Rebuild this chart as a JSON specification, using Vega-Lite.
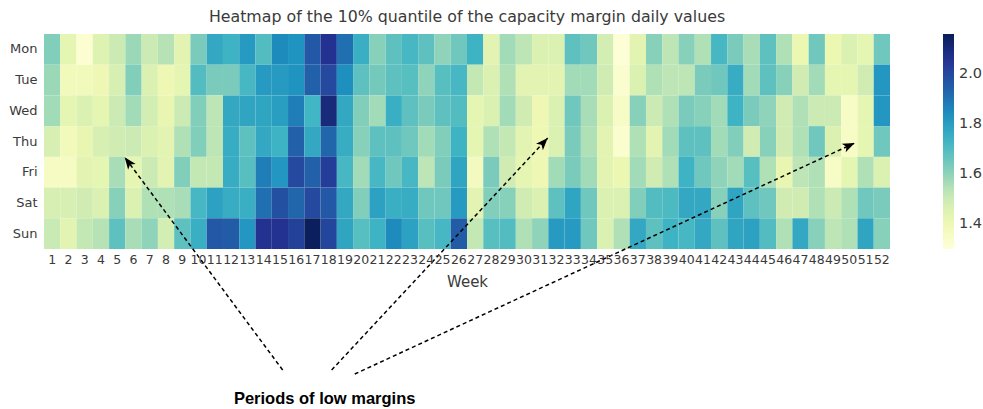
{
"$schema": "https://vega.github.io/schema/vega-lite/v6.json",
"autosize": "none",
"padding": {"left": 44, "top": 34, "right": 93, "bottom": 160},
"width": 846,
"height": 215,
"title": {"text": "Heatmap of the 10% quantile of the capacity margin daily values", "fontSize": 15.8, "fontWeight": "normal", "color": "#3a3a3a", "font": "DejaVu Sans", "anchor": "middle", "frame": "group", "offset": 8},
"config": {"view": {"stroke": null}, "font": "DejaVu Sans"},
"datasets": {
"cells": [
{"week":1,"day":"Mon","value":1.62},{"week":2,"day":"Mon","value":1.43},{"week":3,"day":"Mon","value":1.32},{"week":4,"day":"Mon","value":1.45},{"week":5,"day":"Mon","value":1.50},{"week":6,"day":"Mon","value":1.58},{"week":7,"day":"Mon","value":1.50},{"week":8,"day":"Mon","value":1.54},{"week":9,"day":"Mon","value":1.44},{"week":10,"day":"Mon","value":1.63},{"week":11,"day":"Mon","value":1.77},{"week":12,"day":"Mon","value":1.74},{"week":13,"day":"Mon","value":1.81},{"week":14,"day":"Mon","value":1.70},{"week":15,"day":"Mon","value":1.85},{"week":16,"day":"Mon","value":1.83},{"week":17,"day":"Mon","value":1.96},{"week":18,"day":"Mon","value":2.06},{"week":19,"day":"Mon","value":1.91},{"week":20,"day":"Mon","value":1.75},{"week":21,"day":"Mon","value":1.61},{"week":22,"day":"Mon","value":1.68},{"week":23,"day":"Mon","value":1.72},{"week":24,"day":"Mon","value":1.68},{"week":25,"day":"Mon","value":1.60},{"week":26,"day":"Mon","value":1.65},{"week":27,"day":"Mon","value":1.74},{"week":28,"day":"Mon","value":1.44},{"week":29,"day":"Mon","value":1.57},{"week":30,"day":"Mon","value":1.53},{"week":31,"day":"Mon","value":1.46},{"week":32,"day":"Mon","value":1.46},{"week":33,"day":"Mon","value":1.68},{"week":34,"day":"Mon","value":1.65},{"week":35,"day":"Mon","value":1.48},{"week":36,"day":"Mon","value":1.31},{"week":37,"day":"Mon","value":1.44},{"week":38,"day":"Mon","value":1.61},{"week":39,"day":"Mon","value":1.53},{"week":40,"day":"Mon","value":1.61},{"week":41,"day":"Mon","value":1.55},{"week":42,"day":"Mon","value":1.72},{"week":43,"day":"Mon","value":1.63},{"week":44,"day":"Mon","value":1.56},{"week":45,"day":"Mon","value":1.68},{"week":46,"day":"Mon","value":1.55},{"week":47,"day":"Mon","value":1.41},{"week":48,"day":"Mon","value":1.65},{"week":49,"day":"Mon","value":1.41},{"week":50,"day":"Mon","value":1.46},{"week":51,"day":"Mon","value":1.43},{"week":52,"day":"Mon","value":1.65},
{"week":1,"day":"Tue","value":1.58},{"week":2,"day":"Tue","value":1.38},{"week":3,"day":"Tue","value":1.38},{"week":4,"day":"Tue","value":1.40},{"week":5,"day":"Tue","value":1.47},{"week":6,"day":"Tue","value":1.62},{"week":7,"day":"Tue","value":1.46},{"week":8,"day":"Tue","value":1.40},{"week":9,"day":"Tue","value":1.43},{"week":10,"day":"Tue","value":1.70},{"week":11,"day":"Tue","value":1.63},{"week":12,"day":"Tue","value":1.63},{"week":13,"day":"Tue","value":1.72},{"week":14,"day":"Tue","value":1.81},{"week":15,"day":"Tue","value":1.81},{"week":16,"day":"Tue","value":1.83},{"week":17,"day":"Tue","value":1.94},{"week":18,"day":"Tue","value":2.00},{"week":19,"day":"Tue","value":1.84},{"week":20,"day":"Tue","value":1.68},{"week":21,"day":"Tue","value":1.64},{"week":22,"day":"Tue","value":1.68},{"week":23,"day":"Tue","value":1.69},{"week":24,"day":"Tue","value":1.60},{"week":25,"day":"Tue","value":1.69},{"week":26,"day":"Tue","value":1.72},{"week":27,"day":"Tue","value":1.52},{"week":28,"day":"Tue","value":1.46},{"week":29,"day":"Tue","value":1.55},{"week":30,"day":"Tue","value":1.44},{"week":31,"day":"Tue","value":1.44},{"week":32,"day":"Tue","value":1.44},{"week":33,"day":"Tue","value":1.57},{"week":34,"day":"Tue","value":1.57},{"week":35,"day":"Tue","value":1.49},{"week":36,"day":"Tue","value":1.33},{"week":37,"day":"Tue","value":1.46},{"week":38,"day":"Tue","value":1.55},{"week":39,"day":"Tue","value":1.53},{"week":40,"day":"Tue","value":1.53},{"week":41,"day":"Tue","value":1.63},{"week":42,"day":"Tue","value":1.65},{"week":43,"day":"Tue","value":1.76},{"week":44,"day":"Tue","value":1.57},{"week":45,"day":"Tue","value":1.68},{"week":46,"day":"Tue","value":1.61},{"week":47,"day":"Tue","value":1.49},{"week":48,"day":"Tue","value":1.57},{"week":49,"day":"Tue","value":1.43},{"week":50,"day":"Tue","value":1.43},{"week":51,"day":"Tue","value":1.49},{"week":52,"day":"Tue","value":1.82},
{"week":1,"day":"Wed","value":1.57},{"week":2,"day":"Wed","value":1.43},{"week":3,"day":"Wed","value":1.46},{"week":4,"day":"Wed","value":1.43},{"week":5,"day":"Wed","value":1.50},{"week":6,"day":"Wed","value":1.57},{"week":7,"day":"Wed","value":1.48},{"week":8,"day":"Wed","value":1.42},{"week":9,"day":"Wed","value":1.50},{"week":10,"day":"Wed","value":1.62},{"week":11,"day":"Wed","value":1.53},{"week":12,"day":"Wed","value":1.77},{"week":13,"day":"Wed","value":1.78},{"week":14,"day":"Wed","value":1.78},{"week":15,"day":"Wed","value":1.80},{"week":16,"day":"Wed","value":1.88},{"week":17,"day":"Wed","value":1.73},{"week":18,"day":"Wed","value":2.10},{"week":19,"day":"Wed","value":1.77},{"week":20,"day":"Wed","value":1.62},{"week":21,"day":"Wed","value":1.57},{"week":22,"day":"Wed","value":1.75},{"week":23,"day":"Wed","value":1.68},{"week":24,"day":"Wed","value":1.63},{"week":25,"day":"Wed","value":1.68},{"week":26,"day":"Wed","value":1.70},{"week":27,"day":"Wed","value":1.43},{"week":28,"day":"Wed","value":1.46},{"week":29,"day":"Wed","value":1.57},{"week":30,"day":"Wed","value":1.49},{"week":31,"day":"Wed","value":1.40},{"week":32,"day":"Wed","value":1.46},{"week":33,"day":"Wed","value":1.65},{"week":34,"day":"Wed","value":1.56},{"week":35,"day":"Wed","value":1.46},{"week":36,"day":"Wed","value":1.35},{"week":37,"day":"Wed","value":1.61},{"week":38,"day":"Wed","value":1.50},{"week":39,"day":"Wed","value":1.55},{"week":40,"day":"Wed","value":1.63},{"week":41,"day":"Wed","value":1.61},{"week":42,"day":"Wed","value":1.57},{"week":43,"day":"Wed","value":1.74},{"week":44,"day":"Wed","value":1.63},{"week":45,"day":"Wed","value":1.60},{"week":46,"day":"Wed","value":1.49},{"week":47,"day":"Wed","value":1.55},{"week":48,"day":"Wed","value":1.50},{"week":49,"day":"Wed","value":1.50},{"week":50,"day":"Wed","value":1.35},{"week":51,"day":"Wed","value":1.43},{"week":52,"day":"Wed","value":1.82},
{"week":1,"day":"Thu","value":1.47},{"week":2,"day":"Thu","value":1.38},{"week":3,"day":"Thu","value":1.42},{"week":4,"day":"Thu","value":1.47},{"week":5,"day":"Thu","value":1.49},{"week":6,"day":"Thu","value":1.50},{"week":7,"day":"Thu","value":1.46},{"week":8,"day":"Thu","value":1.44},{"week":9,"day":"Thu","value":1.55},{"week":10,"day":"Thu","value":1.62},{"week":11,"day":"Thu","value":1.53},{"week":12,"day":"Thu","value":1.76},{"week":13,"day":"Thu","value":1.68},{"week":14,"day":"Thu","value":1.77},{"week":15,"day":"Thu","value":1.74},{"week":16,"day":"Thu","value":1.94},{"week":17,"day":"Thu","value":1.77},{"week":18,"day":"Thu","value":1.93},{"week":19,"day":"Thu","value":1.76},{"week":20,"day":"Thu","value":1.61},{"week":21,"day":"Thu","value":1.68},{"week":22,"day":"Thu","value":1.68},{"week":23,"day":"Thu","value":1.65},{"week":24,"day":"Thu","value":1.57},{"week":25,"day":"Thu","value":1.62},{"week":26,"day":"Thu","value":1.74},{"week":27,"day":"Thu","value":1.43},{"week":28,"day":"Thu","value":1.55},{"week":29,"day":"Thu","value":1.52},{"week":30,"day":"Thu","value":1.44},{"week":31,"day":"Thu","value":1.40},{"week":32,"day":"Thu","value":1.46},{"week":33,"day":"Thu","value":1.63},{"week":34,"day":"Thu","value":1.55},{"week":35,"day":"Thu","value":1.44},{"week":36,"day":"Thu","value":1.33},{"week":37,"day":"Thu","value":1.55},{"week":38,"day":"Thu","value":1.44},{"week":39,"day":"Thu","value":1.57},{"week":40,"day":"Thu","value":1.68},{"week":41,"day":"Thu","value":1.68},{"week":42,"day":"Thu","value":1.57},{"week":43,"day":"Thu","value":1.62},{"week":44,"day":"Thu","value":1.49},{"week":45,"day":"Thu","value":1.61},{"week":46,"day":"Thu","value":1.49},{"week":47,"day":"Thu","value":1.55},{"week":48,"day":"Thu","value":1.65},{"week":49,"day":"Thu","value":1.46},{"week":50,"day":"Thu","value":1.35},{"week":51,"day":"Thu","value":1.43},{"week":52,"day":"Thu","value":1.65},
{"week":1,"day":"Fri","value":1.36},{"week":2,"day":"Fri","value":1.36},{"week":3,"day":"Fri","value":1.44},{"week":4,"day":"Fri","value":1.43},{"week":5,"day":"Fri","value":1.56},{"week":6,"day":"Fri","value":1.43},{"week":7,"day":"Fri","value":1.50},{"week":8,"day":"Fri","value":1.44},{"week":9,"day":"Fri","value":1.62},{"week":10,"day":"Fri","value":1.52},{"week":11,"day":"Fri","value":1.52},{"week":12,"day":"Fri","value":1.76},{"week":13,"day":"Fri","value":1.69},{"week":14,"day":"Fri","value":1.88},{"week":15,"day":"Fri","value":1.82},{"week":16,"day":"Fri","value":2.00},{"week":17,"day":"Fri","value":1.94},{"week":18,"day":"Fri","value":2.03},{"week":19,"day":"Fri","value":1.72},{"week":20,"day":"Fri","value":1.57},{"week":21,"day":"Fri","value":1.72},{"week":22,"day":"Fri","value":1.65},{"week":23,"day":"Fri","value":1.72},{"week":24,"day":"Fri","value":1.53},{"week":25,"day":"Fri","value":1.63},{"week":26,"day":"Fri","value":1.78},{"week":27,"day":"Fri","value":1.37},{"week":28,"day":"Fri","value":1.63},{"week":29,"day":"Fri","value":1.49},{"week":30,"day":"Fri","value":1.43},{"week":31,"day":"Fri","value":1.40},{"week":32,"day":"Fri","value":1.57},{"week":33,"day":"Fri","value":1.63},{"week":34,"day":"Fri","value":1.57},{"week":35,"day":"Fri","value":1.44},{"week":36,"day":"Fri","value":1.41},{"week":37,"day":"Fri","value":1.57},{"week":38,"day":"Fri","value":1.49},{"week":39,"day":"Fri","value":1.55},{"week":40,"day":"Fri","value":1.74},{"week":41,"day":"Fri","value":1.65},{"week":42,"day":"Fri","value":1.60},{"week":43,"day":"Fri","value":1.57},{"week":44,"day":"Fri","value":1.69},{"week":45,"day":"Fri","value":1.55},{"week":46,"day":"Fri","value":1.42},{"week":47,"day":"Fri","value":1.53},{"week":48,"day":"Fri","value":1.55},{"week":49,"day":"Fri","value":1.35},{"week":50,"day":"Fri","value":1.43},{"week":51,"day":"Fri","value":1.55},{"week":52,"day":"Fri","value":1.46},
{"week":1,"day":"Sat","value":1.47},{"week":2,"day":"Sat","value":1.47},{"week":3,"day":"Sat","value":1.49},{"week":4,"day":"Sat","value":1.46},{"week":5,"day":"Sat","value":1.61},{"week":6,"day":"Sat","value":1.46},{"week":7,"day":"Sat","value":1.55},{"week":8,"day":"Sat","value":1.55},{"week":9,"day":"Sat","value":1.56},{"week":10,"day":"Sat","value":1.72},{"week":11,"day":"Sat","value":1.79},{"week":12,"day":"Sat","value":1.76},{"week":13,"day":"Sat","value":1.75},{"week":14,"day":"Sat","value":1.91},{"week":15,"day":"Sat","value":1.98},{"week":16,"day":"Sat","value":1.93},{"week":17,"day":"Sat","value":2.00},{"week":18,"day":"Sat","value":1.96},{"week":19,"day":"Sat","value":1.77},{"week":20,"day":"Sat","value":1.62},{"week":21,"day":"Sat","value":1.79},{"week":22,"day":"Sat","value":1.75},{"week":23,"day":"Sat","value":1.76},{"week":24,"day":"Sat","value":1.65},{"week":25,"day":"Sat","value":1.65},{"week":26,"day":"Sat","value":1.81},{"week":27,"day":"Sat","value":1.44},{"week":28,"day":"Sat","value":1.62},{"week":29,"day":"Sat","value":1.61},{"week":30,"day":"Sat","value":1.49},{"week":31,"day":"Sat","value":1.46},{"week":32,"day":"Sat","value":1.68},{"week":33,"day":"Sat","value":1.78},{"week":34,"day":"Sat","value":1.65},{"week":35,"day":"Sat","value":1.46},{"week":36,"day":"Sat","value":1.46},{"week":37,"day":"Sat","value":1.62},{"week":38,"day":"Sat","value":1.70},{"week":39,"day":"Sat","value":1.71},{"week":40,"day":"Sat","value":1.77},{"week":41,"day":"Sat","value":1.77},{"week":42,"day":"Sat","value":1.61},{"week":43,"day":"Sat","value":1.78},{"week":44,"day":"Sat","value":1.68},{"week":45,"day":"Sat","value":1.65},{"week":46,"day":"Sat","value":1.49},{"week":47,"day":"Sat","value":1.49},{"week":48,"day":"Sat","value":1.55},{"week":49,"day":"Sat","value":1.50},{"week":50,"day":"Sat","value":1.55},{"week":51,"day":"Sat","value":1.65},{"week":52,"day":"Sat","value":1.63},
{"week":1,"day":"Sun","value":1.51},{"week":2,"day":"Sun","value":1.44},{"week":3,"day":"Sun","value":1.52},{"week":4,"day":"Sun","value":1.54},{"week":5,"day":"Sun","value":1.68},{"week":6,"day":"Sun","value":1.56},{"week":7,"day":"Sun","value":1.60},{"week":8,"day":"Sun","value":1.48},{"week":9,"day":"Sun","value":1.68},{"week":10,"day":"Sun","value":1.75},{"week":11,"day":"Sun","value":1.96},{"week":12,"day":"Sun","value":1.95},{"week":13,"day":"Sun","value":1.82},{"week":14,"day":"Sun","value":2.06},{"week":15,"day":"Sun","value":2.06},{"week":16,"day":"Sun","value":2.02},{"week":17,"day":"Sun","value":2.15},{"week":18,"day":"Sun","value":2.01},{"week":19,"day":"Sun","value":1.78},{"week":20,"day":"Sun","value":1.69},{"week":21,"day":"Sun","value":1.74},{"week":22,"day":"Sun","value":1.85},{"week":23,"day":"Sun","value":1.79},{"week":24,"day":"Sun","value":1.69},{"week":25,"day":"Sun","value":1.72},{"week":26,"day":"Sun","value":1.95},{"week":27,"day":"Sun","value":1.52},{"week":28,"day":"Sun","value":1.69},{"week":29,"day":"Sun","value":1.70},{"week":30,"day":"Sun","value":1.55},{"week":31,"day":"Sun","value":1.60},{"week":32,"day":"Sun","value":1.81},{"week":33,"day":"Sun","value":1.81},{"week":34,"day":"Sun","value":1.65},{"week":35,"day":"Sun","value":1.46},{"week":36,"day":"Sun","value":1.55},{"week":37,"day":"Sun","value":1.77},{"week":38,"day":"Sun","value":1.68},{"week":39,"day":"Sun","value":1.74},{"week":40,"day":"Sun","value":1.72},{"week":41,"day":"Sun","value":1.77},{"week":42,"day":"Sun","value":1.68},{"week":43,"day":"Sun","value":1.78},{"week":44,"day":"Sun","value":1.79},{"week":45,"day":"Sun","value":1.70},{"week":46,"day":"Sun","value":1.55},{"week":47,"day":"Sun","value":1.77},{"week":48,"day":"Sun","value":1.61},{"week":49,"day":"Sun","value":1.53},{"week":50,"day":"Sun","value":1.55},{"week":51,"day":"Sun","value":1.78},{"week":52,"day":"Sun","value":1.61}
],
"arrows": [
{"fromWeek": 15.17, "fromRow": 10.94, "toWeek": 5.46, "toRow": 4.01},
{"fromWeek": 18.18, "fromRow": 10.94, "toWeek": 31.46, "toRow": 3.39},
{"fromWeek": 19.60, "fromRow": 11.07, "toWeek": 50.33, "toRow": 3.55}
],
"note": [
{"label": "Periods of low margins", "atWeek": 17.75, "atRow": 12.05}
]
},
"resolve": {"scale": {"x": "independent", "y": "independent"}},
"layer": [
{
"data": {"name": "cells"},
"mark": {"type": "rect"},
"encoding": {
"x": {"field": "week", "type": "ordinal", "scale": {"paddingInner": 0, "paddingOuter": 0},
"axis": {"title": "Week", "labelAngle": 0, "labelFontSize": 12.5, "labelColor": "#3a3a3a", "ticks": false, "tickSize": 0, "domain": false, "labelPadding": 4, "titleFontSize": 15, "titleFontWeight": "normal", "titleColor": "#3a3a3a", "titlePadding": 9, "labelOverlap": false}},
"y": {"field": "day", "type": "ordinal", "sort": ["Mon","Tue","Wed","Thu","Fri","Sat","Sun"], "scale": {"paddingInner": 0, "paddingOuter": 0},
"axis": {"title": null, "labelFontSize": 13, "labelColor": "#3a3a3a", "ticks": false, "tickSize": 0, "domain": false, "labelPadding": 7}},
"color": {"field": "value", "type": "quantitative",
"scale": {"type": "linear", "interpolate": "rgb",
"domain": [1.3, 1.4075, 1.515, 1.6225, 1.73, 1.8375, 1.945, 2.0525, 2.16],
"range": ["#ffffd9", "#edf8b1", "#c7e9b4", "#7fcdbb", "#41b6c4", "#1d91c0", "#225ea8", "#253494", "#081d58"]},
"legend": {"title": null, "orient": "right", "offset": 53, "gradientLength": 215, "gradientThickness": 11, "gradientStrokeWidth": 0, "values": [1.4, 1.6, 1.8, 2.0], "format": ".1f", "labelFontSize": 14.5, "labelColor": "#3a3a3a", "labelOffset": 5, "labelOverlap": false}}
}
},
{
"data": {"name": "arrows"},
"mark": {"type": "rule", "color": "black", "strokeWidth": 1.5, "strokeDash": [4, 3]},
"encoding": {
"x": {"field": "fromWeek", "type": "quantitative", "scale": {"domain": [0.5, 52.5], "nice": false, "zero": false}, "axis": null},
"x2": {"field": "toWeek"},
"y": {"field": "fromRow", "type": "quantitative", "scale": {"domain": [0, 7], "nice": false, "zero": false, "reverse": true}, "axis": null},
"y2": {"field": "toRow"}
}
},
{
"data": {"name": "arrows"},
"transform": [
{"calculate": "atan2((datum.toWeek - datum.fromWeek) * 846 / 52, -(datum.toRow - datum.fromRow) * 215 / 7) * 180 / PI", "as": "heading"}
],
"mark": {"type": "point", "shape": "M0,0L0.7,1.8L0,1.35L-0.7,1.8Z", "filled": true, "color": "black", "opacity": 1, "size": 180},
"encoding": {
"x": {"field": "toWeek", "type": "quantitative", "scale": {"domain": [0.5, 52.5], "nice": false, "zero": false}, "axis": null},
"y": {"field": "toRow", "type": "quantitative", "scale": {"domain": [0, 7], "nice": false, "zero": false, "reverse": true}, "axis": null},
"angle": {"field": "heading", "type": "quantitative", "scale": null}
}
},
{
"data": {"name": "note"},
"mark": {"type": "text", "font": "Liberation Sans", "fontWeight": "bold", "fontSize": 16.5, "color": "black", "align": "center", "baseline": "alphabetic"},
"encoding": {
"x": {"field": "atWeek", "type": "quantitative", "scale": {"domain": [0.5, 52.5], "nice": false, "zero": false}, "axis": null},
"y": {"field": "atRow", "type": "quantitative", "scale": {"domain": [0, 7], "nice": false, "zero": false, "reverse": true}, "axis": null},
"text": {"field": "label"}
}
}
]
}
